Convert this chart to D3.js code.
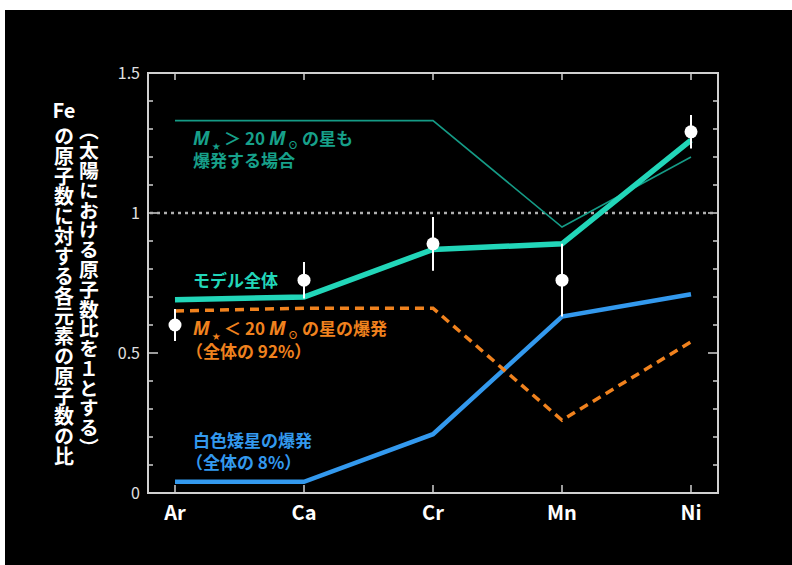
<!DOCTYPE html>
<html>
<head>
<meta charset="utf-8">
<script src="https://cdn.jsdelivr.net/npm/d3@7"></script>
<style>
  html, body { margin: 0; padding: 0; background: #fff; }
  svg { display: block; }
  text { font-family: "Noto Sans CJK JP", "Noto Sans", sans-serif; }
</style>
</head>
<body>
<svg id="chart" width="792" height="565"></svg>
<script>
// Element ratios relative to Fe (solar ratio = 1)
const elements = ["Ar", "Ca", "Cr", "Mn", "Ni"];
const modelTotal = [0.69, 0.70, 0.87, 0.89, 1.26];
const withMassiveStars = [1.33, 1.33, 1.33, 0.95, 1.20];
const coreCollapse = [0.65, 0.66, 0.66, 0.26, 0.54];
const whiteDwarf = [0.04, 0.04, 0.21, 0.63, 0.71];
const observed = [0.60, 0.76, 0.89, 0.76, 1.29];
const observedErr = [0.057, 0.065, 0.096, 0.13, 0.06];
const yTickValues = [0, 0.5, 1, 1.5];
const yTickLabels = ["0", "0.5", "1", "1.5"];

const svg = d3.select("#chart");
const frame = { left: 148, top: 73, right: 718, bottom: 493 };

// black panel
svg.append("rect").attr("x", 5).attr("y", 10).attr("width", 787).attr("height", 555).attr("fill", "#000");

const x = d3.scalePoint().domain(elements).range([175, 691]);
const y = d3.scaleLinear().domain([0, 1.5]).range([frame.bottom, frame.top]);

const axisColor = "#d0d0d0";
const g = svg.append("g");

// minor ticks every 0.1 on left and right edges
const minor = d3.range(0, 16).map(i => i / 10);
g.selectAll(".ltick").data(minor).join("line")
  .attr("x1", frame.left).attr("x2", d => frame.left + (Math.round(d * 10) % 5 === 0 ? 10 : 5))
  .attr("y1", d => y(d)).attr("y2", d => y(d))
  .attr("stroke", axisColor).attr("stroke-width", 1.5);
g.selectAll(".rtick").data(minor).join("line")
  .attr("x1", frame.right).attr("x2", d => frame.right - (Math.round(d * 10) % 5 === 0 ? 10 : 5))
  .attr("y1", d => y(d)).attr("y2", d => y(d))
  .attr("stroke", axisColor).attr("stroke-width", 1.5);

// category ticks top and bottom
g.selectAll(".btick").data(elements).join("line")
  .attr("x1", d => x(d)).attr("x2", d => x(d))
  .attr("y1", frame.bottom).attr("y2", frame.bottom - 8)
  .attr("stroke", axisColor).attr("stroke-width", 1.5);
g.selectAll(".ttick").data(elements).join("line")
  .attr("x1", d => x(d)).attr("x2", d => x(d))
  .attr("y1", frame.top).attr("y2", frame.top + 7)
  .attr("stroke", axisColor).attr("stroke-width", 1.5);

// frame
g.append("rect")
  .attr("x", frame.left).attr("y", frame.top)
  .attr("width", frame.right - frame.left).attr("height", frame.bottom - frame.top)
  .attr("fill", "none").attr("stroke", axisColor).attr("stroke-width", 2);

// y tick labels
g.selectAll(".ylab").data(yTickValues).join("text")
  .attr("x", 140).attr("y", d => y(d)).attr("dy", "0.36em")
  .attr("text-anchor", "end").attr("fill", "#e0e0e0")
  .attr("font-size", 16)
  .attr("font-family", "'Noto Sans', sans-serif")
  .text((d, i) => yTickLabels[i]);

// x tick labels
g.selectAll(".xlab").data(elements).join("text")
  .attr("x", d => x(d)).attr("y", 520)
  .attr("text-anchor", "middle").attr("fill", "#fff")
  .attr("font-size", 20).attr("font-weight", 700)
  .attr("font-family", "'Noto Sans', sans-serif")
  .text(d => d);

// reference line at solar ratio
g.append("line")
  .attr("x1", frame.left + 2).attr("x2", frame.right - 2)
  .attr("y1", y(1)).attr("y2", y(1))
  .attr("stroke", "#b0b0b0").attr("stroke-width", 2.5)
  .attr("stroke-dasharray", "3,4");

const line = d3.line().x((d, i) => x(elements[i])).y(d => y(d));

g.append("path").datum(withMassiveStars).attr("d", line)
  .attr("fill", "none").attr("stroke", "#159b86").attr("stroke-width", 1.6);
g.append("path").datum(whiteDwarf).attr("d", line)
  .attr("fill", "none").attr("stroke", "#3399ee").attr("stroke-width", 4.5);
g.append("path").datum(coreCollapse).attr("d", line)
  .attr("fill", "none").attr("stroke", "#f0821e").attr("stroke-width", 3.5)
  .attr("stroke-dasharray", "9,6");
g.append("path").datum(modelTotal).attr("d", line)
  .attr("fill", "none").attr("stroke", "#22d6b9").attr("stroke-width", 5.5);

// observed values with error bars
const obs = g.append("g");
obs.selectAll("line").data(observed).join("line")
  .attr("x1", (d, i) => x(elements[i])).attr("x2", (d, i) => x(elements[i]))
  .attr("y1", (d, i) => y(d - observedErr[i])).attr("y2", (d, i) => y(d + observedErr[i]))
  .attr("stroke", "#fff").attr("stroke-width", 2);
obs.selectAll("circle").data(observed).join("circle")
  .attr("cx", (d, i) => x(elements[i])).attr("cy", d => y(d))
  .attr("r", 6.5).attr("fill", "#fff");

// series labels
const labelSize = 17;
function massLabel(parent, xPos, yPos, color, sign, tail) {
  const t = parent.append("text").attr("x", xPos).attr("y", yPos)
    .attr("fill", color).attr("font-size", labelSize).attr("font-weight", 700);
  t.append("tspan").attr("font-style", "italic").attr("font-size", 19)
    .attr("font-family", "'Noto Sans', sans-serif").text("M");
  t.append("tspan").attr("font-size", 8).attr("dx", 2.5).attr("dy", 4).text("★");
  t.append("tspan").attr("dy", -4).text(" " + sign + " 20 ");
  t.append("tspan").attr("font-style", "italic").attr("font-size", 19)
    .attr("font-family", "'Noto Sans', sans-serif").text("M");
  t.append("tspan").attr("font-size", 10).attr("dx", 2.5).attr("dy", 4).text("⊙");
  t.append("tspan").attr("dy", -4).text(" " + tail);
}
function plainLabel(xPos, yPos, color, s) {
  g.append("text").attr("x", xPos).attr("y", yPos)
    .attr("fill", color).attr("font-size", labelSize).attr("font-weight", 700).text(s);
}

massLabel(g, 193, 145, "#17a08a", "＞", "の星も");
plainLabel(193, 167, "#17a08a", "爆発する場合");
plainLabel(193, 287, "#22d6b9", "モデル全体");
massLabel(g, 193, 335, "#f0821e", "＜", "の星の爆発");
plainLabel(186, 358, "#f0821e", "（全体の 92%）");
plainLabel(193, 447, "#3399ee", "白色矮星の爆発");
plainLabel(186, 469, "#3399ee", "（全体の 8%）");

// y-axis title (vertical)
svg.append("text").attr("x", 64).attr("y", 118)
  .attr("text-anchor", "middle").attr("fill", "#fff")
  .attr("font-size", 20).attr("font-weight", 700)
  .attr("font-family", "'Noto Sans', sans-serif").text("Fe");
svg.append("text").attr("x", 64).attr("y", 126)
  .style("writing-mode", "vertical-rl")
  .attr("fill", "#fff").attr("font-size", 20).attr("font-weight", 700)
  .text("の原子数に対する各元素の原子数の比");
svg.append("text").attr("x", 89).attr("y", 121)
  .style("writing-mode", "vertical-rl")
  .attr("fill", "#fff").attr("font-size", 19.8).attr("font-weight", 700)
  .text("（太陽における原子数比を１とする）");
</script>
</body>
</html>
